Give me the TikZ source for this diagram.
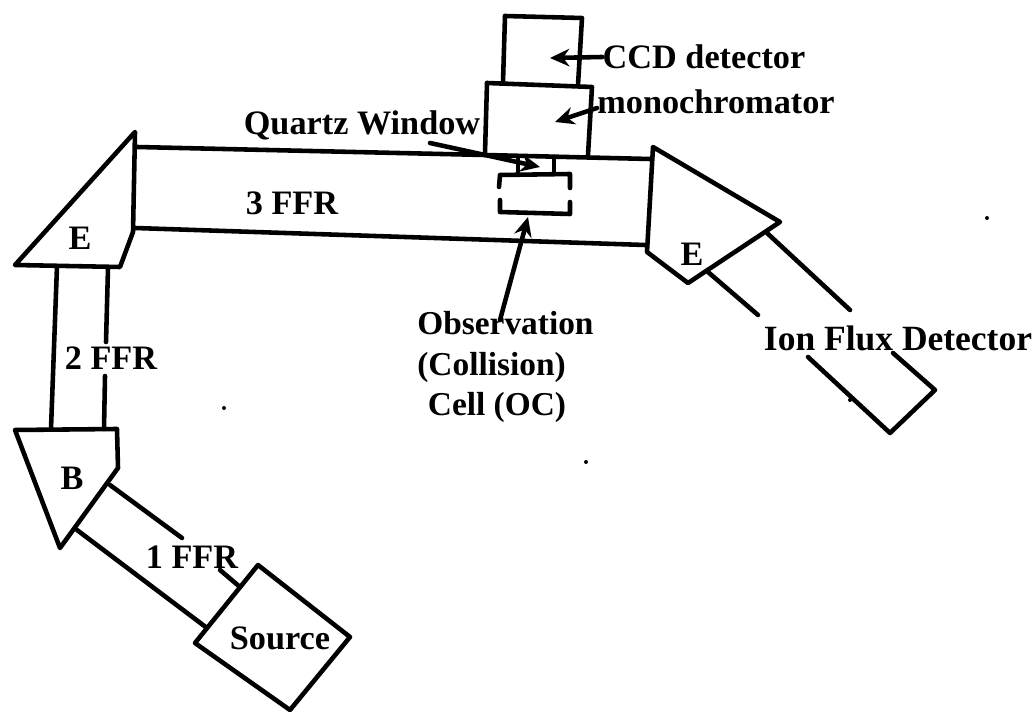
\documentclass[tikz,border=0pt]{standalone}
\usepackage{fontspec}
\setmainfont{Liberation Serif}
\usetikzlibrary{arrows.meta}
\tikzset{
  wall/.style={line width=2.6pt, line join=round, line cap=round},
  lbl/.style={font=\fontsize{19.5}{23.3}\selectfont\bfseries, inner sep=0pt},
  pointer/.style={wall, -{Stealth[length=11pt, width=10pt]}}
}
\begin{document}
\begin{tikzpicture}[x=0.02cm, y=-0.02cm]
	\useasboundingbox (0, 0) rectangle (1034, 712);

	% source and first field free region
	\draw[wall] (258, 565) -- (350, 637) -- (290, 710) -- (195, 643) -- cycle;
	\draw[wall] (110, 485) -- (182, 538);
	\draw[wall] (220, 570) -- (240, 587);
	\draw[wall] (77, 530) -- (207, 628);
	\draw[wall] (15, 430) -- (117, 429) -- (118, 468) -- (60, 548) -- cycle;

	% second field free region
	\draw[wall] (57, 266) -- (51, 429);
	\draw[wall] (108, 268) -- (106, 342);
	\draw[wall] (105, 376) -- (104, 429);
	\draw[wall] (135, 132) -- (15, 265) -- (120, 267) -- (133, 232) -- cycle;

	% third field free region
	\draw[wall] (137, 147) -- (485, 155) -- (650, 159);
	\draw[wall] (135, 228) -- (645, 245);

	% monochromator, detector
	\draw[wall] (505, 16) -- (582, 18) -- (578, 85);
	\draw[wall] (505, 16) -- (503, 82);
	\draw[wall] (487, 83) -- (592, 87) -- (588, 155);
	\draw[wall] (487, 83) -- (485, 153);

	% cell
	\draw[wall] (518, 157) -- (518, 172);
	\draw[wall] (554, 157) -- (554, 172);
	\draw[wall] (499, 187) -- (500, 175) -- (570, 174) -- (570, 188);
	\draw[wall] (500, 200) -- (500, 212) -- (570, 214) -- (570, 202);

	% second sector and detector
	\draw[wall] (653, 147) -- (780, 222) -- (688, 283) -- (647, 252) -- cycle;
	\draw[wall] (708, 272) -- (758, 315);
	\draw[wall] (767, 233) -- (850, 310);
	\draw[wall] (808, 357) -- (890, 433) -- (935, 390) -- (893, 353);

	% specks
	\foreach \x/\y in {987/218, 850/400, 224/408, 586/462}
		\fill (\x, \y) circle (2);

	% labels
	\node[lbl] (src) at (280, 638) {Source};
	\node[lbl] (ffr1) at (192, 557) {1 FFR};
	\node[lbl] (ffr2) at (111, 358) {2 FFR};
	\node[lbl] (ffr3) at (292, 203) {3 FFR};
	\node[lbl] (sectb) at (72, 478) {B};
	\node[lbl] (secte1) at (80, 238) {E};
	\node[lbl] (secte2) at (692, 254) {E};
	\node[lbl] (ccd) at (704, 57) {CCD detector};
	\node[lbl] (mono) at (716, 102) {monochromator};
	\node[lbl] (quartz) at (362, 125) {Quartz Window};
	\node[lbl, font=\fontsize{20.2}{24}\selectfont\bfseries] (flux) at (898, 338) {Ion Flux Detector};
	\node[lbl, align=left, anchor=west, font=\fontsize{19}{23.3}\selectfont\bfseries] (obs) at (417, 367)
		{Observation\\(Collision)\\\hspace*{6pt}Cell (OC)};

	% pointers
	\coordinate (ccdin) at (550, 58);
	\coordinate (monoin) at (555, 122);
	\coordinate (quartzout) at (430, 143);
	\coordinate (quartzin) at (540, 167);
	\coordinate (cellin) at (528, 217);
	\coordinate (obsout) at (500, 320);
	\draw[pointer] (ccd.west) to (ccdin);
	\draw[pointer] (mono.west) ++(0, 6) to (monoin);
	\draw[pointer] (quartzout) to (quartzin);
	\draw[pointer] (obsout) to (cellin);
\end{tikzpicture}
\end{document}
